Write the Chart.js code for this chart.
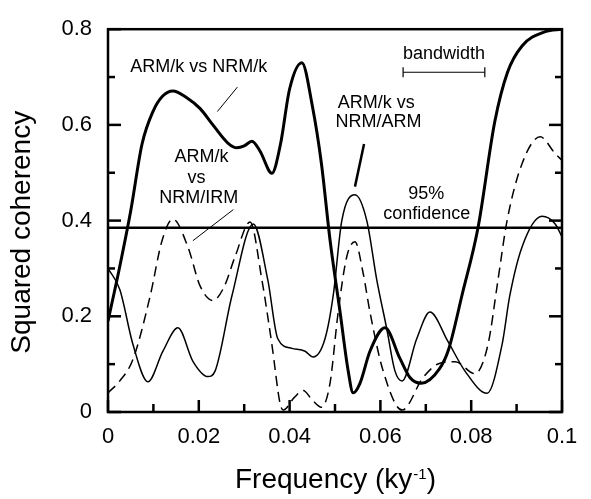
<!DOCTYPE html>
<html>
<head>
<meta charset="utf-8">
<script src="https://cdn.jsdelivr.net/npm/chart.js@4"></script>
<style>
    html, body { margin: 0; padding: 0; background: #fff; }
</style>
</head>
<body>
<canvas id="chart" width="591" height="499"></canvas>
<script>
// ARM/k vs NRM/k (thick line)
const kFreq = [0, 0.0025, 0.005, 0.0075, 0.010, 0.012, 0.0143, 0.0172, 0.0203, 0.0231, 0.0264, 0.0284, 0.030, 0.0317, 0.0335, 0.0361, 0.038, 0.040, 0.0427, 0.045, 0.047, 0.0489, 0.0511, 0.0529, 0.054, 0.0555, 0.0577, 0.061, 0.0643, 0.0665, 0.069, 0.073, 0.075, 0.078, 0.0815, 0.0852, 0.088, 0.0912, 0.0963, 0.1];
const kCoh = [0.19, 0.30, 0.42, 0.56, 0.63, 0.66, 0.671, 0.658, 0.634, 0.60, 0.562, 0.552, 0.556, 0.566, 0.545, 0.499, 0.56, 0.675, 0.73, 0.64, 0.52, 0.36, 0.21, 0.086, 0.04, 0.06, 0.127, 0.176, 0.112, 0.072, 0.06, 0.09, 0.13, 0.245, 0.385, 0.607, 0.71, 0.765, 0.795, 0.80];

// ARM/k vs NRM/IRM (dashed)
const irmFreq = [0, 0.0026, 0.0055, 0.0093, 0.0119, 0.0143, 0.0176, 0.0203, 0.0231, 0.0255, 0.028, 0.0313, 0.0339, 0.0361, 0.0379, 0.0386, 0.041, 0.043, 0.045, 0.047, 0.0489, 0.0507, 0.0526, 0.0544, 0.0562, 0.0577, 0.0606, 0.0648, 0.0694, 0.0731, 0.0765, 0.0808, 0.0837, 0.0859, 0.0879, 0.0912, 0.0952, 0.0985, 0.1];
const irmCoh = [0.04, 0.065, 0.11, 0.243, 0.358, 0.403, 0.345, 0.263, 0.233, 0.26, 0.325, 0.397, 0.276, 0.141, 0.018, 0.004, 0.03, 0.045, 0.025, 0.01, 0.06, 0.209, 0.325, 0.356, 0.29, 0.209, 0.086, 0.004, 0.072, 0.102, 0.105, 0.08, 0.141, 0.276, 0.40, 0.519, 0.575, 0.54, 0.526];

// ARM/k vs NRM/ARM (thin line)
const armFreq = [0, 0.0026, 0.0055, 0.0088, 0.0121, 0.0154, 0.0187, 0.022, 0.0236, 0.0273, 0.032, 0.0352, 0.0374, 0.0405, 0.0434, 0.0452, 0.0478, 0.0496, 0.0515, 0.0544, 0.057, 0.0592, 0.0614, 0.0632, 0.0648, 0.068, 0.0709, 0.0749, 0.0786, 0.0835, 0.0868, 0.0885, 0.0912, 0.0956, 0.0985, 0.1];
const armCoh = [0.30, 0.256, 0.141, 0.063, 0.127, 0.176, 0.106, 0.074, 0.086, 0.243, 0.393, 0.276, 0.153, 0.133, 0.127, 0.115, 0.153, 0.243, 0.40, 0.454, 0.40, 0.276, 0.174, 0.086, 0.065, 0.153, 0.209, 0.147, 0.086, 0.039, 0.141, 0.243, 0.345, 0.409, 0.393, 0.366];

const confidence95 = 0.385;
const bandStart = 0.065;
const bandEnd = 0.083;
const bandLevel = 0.71;

const xTicks = [0, 0.02, 0.04, 0.06, 0.08, 0.1];
const xTickLabels = ['0', '0.02', '0.04', '0.06', '0.08', '0.1'];
const xMinorTicks = [0.01, 0.03, 0.05, 0.07, 0.09];
const yTicks = [0, 0.2, 0.4, 0.6, 0.8];
const yTickLabels = ['0', '0.2', '0.4', '0.6', '0.8'];
const yMinorTicks = [0.1, 0.3, 0.5, 0.7];

// text labels placed in data units: [text, freq, coherency]
const notes = [
    ['ARM/k vs NRM/k', 0.0200, 0.720],
    ['ARM/k', 0.0206, 0.532],
    ['vs', 0.0195, 0.490],
    ['NRM/IRM', 0.0200, 0.448],
    ['ARM/k vs', 0.0591, 0.646],
    ['NRM/ARM', 0.0596, 0.607],
    ['95%', 0.0701, 0.455],
    ['confidence', 0.0702, 0.414],
    ['bandwidth', 0.0740, 0.749],
];
// leader lines: [x1, y1, x2, y2, width]
const leaders = [
    [0.0285, 0.679, 0.0241, 0.628, 1],
    [0.0276, 0.423, 0.0187, 0.358, 1],
    [0.0564, 0.560, 0.0544, 0.471, 2.5],
];

const FONT = "'Liberation Sans', Arial, Helvetica, sans-serif";

function toPoints(xs, ys) {
    return xs.map((x, i) => ({ x: x, y: ys[i] }));
}

const framePlugin = {
    id: 'frame',
    afterDraw(chart) {
        const ctx = chart.ctx;
        const xs = chart.scales.x;
        const ys = chart.scales.y;
        const a = chart.chartArea;
        ctx.save();
        ctx.setLineDash([]);
        ctx.strokeStyle = '#000';
        ctx.fillStyle = '#000';

        // inward tick marks as small filled bars
        const w = 2.5;
        xTicks.forEach(v => {
            const px = xs.getPixelForValue(v);
            ctx.fillRect(px - w / 2, a.bottom - 12, w, 12);
        });
        xMinorTicks.forEach(v => {
            const px = xs.getPixelForValue(v);
            ctx.fillRect(px - w / 2, a.bottom - 8, w, 8);
        });
        yTicks.forEach(v => {
            const py = ys.getPixelForValue(v);
            ctx.fillRect(a.left, py - w / 2, 13, w);
            ctx.fillRect(a.right - 13, py - w / 2, 13, w);
        });
        yMinorTicks.forEach(v => {
            const py = ys.getPixelForValue(v);
            ctx.fillRect(a.left, py - w / 2, 7, w);
            ctx.fillRect(a.right - 7, py - w / 2, 7, w);
        });

        // frame
        ctx.lineWidth = 2.5;
        ctx.strokeRect(a.left, a.top, a.right - a.left, a.bottom - a.top);

        // leader lines
        leaders.forEach(l => {
            ctx.lineWidth = l[4];
            ctx.beginPath();
            ctx.moveTo(xs.getPixelForValue(l[0]), ys.getPixelForValue(l[1]));
            ctx.lineTo(xs.getPixelForValue(l[2]), ys.getPixelForValue(l[3]));
            ctx.stroke();
        });

        // bandwidth bar
        const bx1 = xs.getPixelForValue(bandStart);
        const bx2 = xs.getPixelForValue(bandEnd);
        const by = ys.getPixelForValue(bandLevel);
        ctx.lineWidth = 1.2;
        ctx.beginPath();
        ctx.moveTo(bx1, by); ctx.lineTo(bx2, by);
        ctx.moveTo(bx1, by - 5); ctx.lineTo(bx1, by + 5);
        ctx.moveTo(bx2, by - 5); ctx.lineTo(bx2, by + 5);
        ctx.stroke();

        // annotations
        ctx.font = '18px ' + FONT;
        ctx.textAlign = 'center';
        ctx.textBaseline = 'middle';
        notes.forEach(n => {
            ctx.fillText(n[0], xs.getPixelForValue(n[1]), ys.getPixelForValue(n[2]));
        });

        // x axis title with superscript
        const mid = (a.left + a.right) / 2;
        const base = 488;
        ctx.textBaseline = 'alphabetic';
        ctx.textAlign = 'left';
        ctx.font = '28px ' + FONT;
        const t1 = 'Frequency (ky';
        const t3 = ')';
        const w1 = ctx.measureText(t1).width;
        const w3 = ctx.measureText(t3).width;
        ctx.font = '15px ' + FONT;
        const t2 = '-1';
        const w2 = ctx.measureText(t2).width;
        const x0 = mid - (w1 + w2 + w3) / 2;
        ctx.font = '28px ' + FONT;
        ctx.fillText(t1, x0, base);
        ctx.font = '15px ' + FONT;
        ctx.fillText(t2, x0 + w1 + 1, base - 9);
        ctx.font = '28px ' + FONT;
        ctx.fillText(t3, x0 + w1 + w2 + 1, base);
        ctx.restore();
    }
};

new Chart(document.getElementById('chart').getContext('2d'), {
    type: 'line',
    data: {
        datasets: [
            {
                label: 'ARM/k vs NRM/k',
                data: toPoints(kFreq, kCoh),
                borderColor: '#000',
                borderWidth: 3,
                pointRadius: 0,
                cubicInterpolationMode: 'monotone',
            },
            {
                label: 'ARM/k vs NRM/IRM',
                data: toPoints(irmFreq, irmCoh),
                borderColor: '#000',
                borderWidth: 1.5,
                borderDash: [10, 6],
                pointRadius: 0,
                cubicInterpolationMode: 'monotone',
            },
            {
                label: 'ARM/k vs NRM/ARM',
                data: toPoints(armFreq, armCoh),
                borderColor: '#000',
                borderWidth: 1.5,
                pointRadius: 0,
                cubicInterpolationMode: 'monotone',
            },
            {
                label: '95% confidence',
                data: [{ x: 0, y: confidence95 }, { x: 0.1, y: confidence95 }],
                borderColor: '#000',
                borderWidth: 2.5,
                pointRadius: 0,
            },
        ]
    },
    options: {
        responsive: false,
        animation: false,
        devicePixelRatio: 1,
        layout: { padding: { top: 21, right: 29, left: 0, bottom: 0 } },
        plugins: {
            legend: { display: false },
            tooltip: { enabled: false },
        },
        scales: {
            x: {
                type: 'linear',
                min: 0,
                max: 0.1,
                grid: { display: false, drawTicks: false },
                border: { display: false },
                afterBuildTicks: s => { s.ticks = xTicks.map(v => ({ value: v })); },
                afterFit: s => { s.height = 87; },
                ticks: {
                    color: '#000',
                    padding: 12,
                    maxRotation: 0,
                    font: { family: FONT, size: 22 },
                    callback: (v, i) => xTickLabels[i],
                },
            },
            y: {
                min: 0,
                max: 0.8,
                grid: { display: false, drawTicks: false },
                border: { display: false },
                afterBuildTicks: s => { s.ticks = yTicks.map(v => ({ value: v })); },
                afterFit: s => { s.width = 108; },
                ticks: {
                    color: '#000',
                    padding: 16,
                    font: { family: FONT, size: 22 },
                    callback: (v, i) => yTickLabels[i],
                },
                title: {
                    display: true,
                    // trailing spaces push the centred title down to where the original sits
                    text: 'Squared coherency   ',
                    color: '#000',
                    font: { family: FONT, size: 28 },
                    padding: { top: 5, bottom: 0 },
                },
            },
        },
    },
    plugins: [framePlugin],
});
</script>
</body>
</html>
